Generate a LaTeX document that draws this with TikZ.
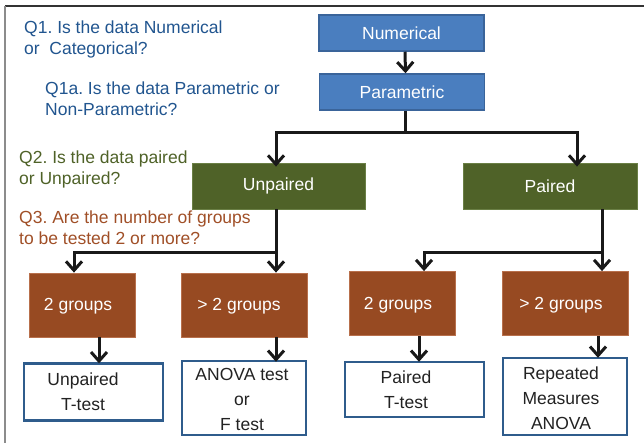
\documentclass[tikz,border=0pt]{standalone}
\usepackage{fontspec}
\setmainfont{Liberation Sans}
\usetikzlibrary{arrows.meta}
\frenchspacing
\definecolor{qblue}{HTML}{21558F}
\definecolor{boxblue}{HTML}{4A7EBF}
\definecolor{boxblueedge}{HTML}{3A649A}
\definecolor{qgreen}{HTML}{4F6228}
\definecolor{boxgreen}{HTML}{4F6228}
\definecolor{boxgreenedge}{HTML}{6A7F45}
\definecolor{qbrown}{HTML}{A04F27}
\definecolor{boxbrown}{HTML}{974A22}
\definecolor{boxbrownedge}{HTML}{B8704C}
\definecolor{resedge}{HTML}{2F5C8C}
\definecolor{restext}{HTML}{222222}
\begin{document}
\begin{tikzpicture}[x=1pt,y=-1pt,
  every node/.style={font=\fontsize{17.5}{20}\selectfont\frenchspacing, inner sep=0pt},
  bluebox/.style={draw=boxblueedge, line width=1.5pt, fill=boxblue, text=white, minimum width=#1, minimum height=36pt},
  greenbox/.style={draw=boxgreenedge, line width=0.8pt, fill=boxgreen, text=white, minimum width=#1, minimum height=46pt},
  brownbox/.style={draw=boxbrownedge, line width=0.8pt, fill=boxbrown, text=white, minimum width=#1, minimum height=64pt},
  resbox/.style={draw=resedge, line width=2.4pt, fill=white},
  restxt/.style={text=restext, align=center, font=\fontsize{17.5}{25}\selectfont},
  qtxt/.style={anchor=west, align=left, font=\fontsize{17.5}{21}\selectfont\frenchspacing},
  conn/.style={line width=3pt, black!90},
  arr/.style={conn, -{Straight Barb[length=9pt,width=16pt,line width=3pt]}}
]
\useasboundingbox (0,0) rectangle (644,443);
% frame
\draw[black!80, line width=1.2pt] (5,6) -- (644,6);
\draw[black!45, line width=1.5pt] (5,6) -- (5,443);

% questions
\node[qtxt, text=qblue] (q1) at (24,39) {Q1. Is the data Numerical\\or\ \ Categorical?};
\node[qtxt, text=qblue] (q1a) at (45,99) {Q1a. Is the data Parametric or\\Non-Parametric?};
\node[qtxt, text=qgreen] (q2) at (19,169) {Q2. Is the data paired\\or Unpaired?};
\node[qtxt, text=qbrown] (q3) at (19,228) {Q3. Are the number of groups\\to be tested 2 or more?};

% top boxes
\node[bluebox=165pt] (num) at (401.5,33) {Numerical};
\node[bluebox=165pt] (par) at (402,92) {Parametric};
\node[greenbox=173pt] (unp) at (278.5,186) {Unpaired};
\node[greenbox=174pt] (pai) at (550,186) {Paired};

% group boxes
\node[brownbox=106pt] (b1) at (82,305) {};
\node[brownbox=126pt] (b2) at (244,305) {};
\node[brownbox=106pt] (b3) at (402,303.5) {};
\node[brownbox=126pt] (b4) at (565,303.5) {};
\node[text=white] (b1t) at (78,306) {2 groups};
\node[text=white] (b2t) at (239,306) {> 2 groups};
\node[text=white] (b3t) at (398,305) {2 groups};
\node[text=white] (b4t) at (561,305) {> 2 groups};

% result boxes
\node[resbox, minimum width=139pt, minimum height=57pt] (r1) at (93.5,392) {};
\node[resbox, minimum width=124pt, minimum height=74pt] (r2) at (244,398) {};
\node[resbox, minimum width=139pt, minimum height=55pt] (r3) at (414.5,389.5) {};
\node[resbox, minimum width=124pt, minimum height=77pt] (r4) at (565,396.5) {};
\node[restxt] (r1t) at (83,392) {Unpaired\\T-test};
\node[restxt] (r2t) at (242,399) {ANOVA test\\or\\F test};
\node[restxt] (r3t) at (406,389.5) {Paired\\T-test};
\node[restxt] (r4t) at (561,398) {Repeated\\Measures\\ANOVA};

% junction coordinates
\coordinate (j0) at (405,133);
\coordinate (jl) at (276,253);
\coordinate (jr) at (602,253);

% connectors
\draw[arr] ([xshift=3.5pt]num.south) -- ([xshift=3.5pt]par.north);
\draw[conn] ([xshift=3pt]par.south) -- (j0);
\draw[arr] (j0) -| ([xshift=-2.5pt,yshift=-4pt]unp.north);
\draw[arr] (j0) -| ([xshift=27pt,yshift=-4pt]pai.north);

\draw[conn] (unp.south -| jl) -- (jl);
\draw[arr] (jl) -| ([xshift=-8pt]b1.north);
\draw[arr] (jl) -- (b2.north -| jl);
\draw[conn] (pai.south -| jr) -- (jr);
\draw[arr] (jr) -| ([xshift=22pt]b3.north);
\draw[arr] (jr) -- (b4.north -| jr);

\draw[arr] ([xshift=17pt]b1.south) -- ([xshift=5.5pt,yshift=-1pt]r1.north);
\draw[arr] ([xshift=32pt]b2.south) -- ([xshift=32pt,yshift=-2pt]r2.north);
\draw[arr] ([xshift=17pt]b3.south) -- ([xshift=4.5pt,yshift=-1pt]r3.north);
\draw[arr] ([xshift=33pt]b4.south) -- ([xshift=33pt,yshift=-1pt]r4.north);
\end{tikzpicture}
\end{document}
